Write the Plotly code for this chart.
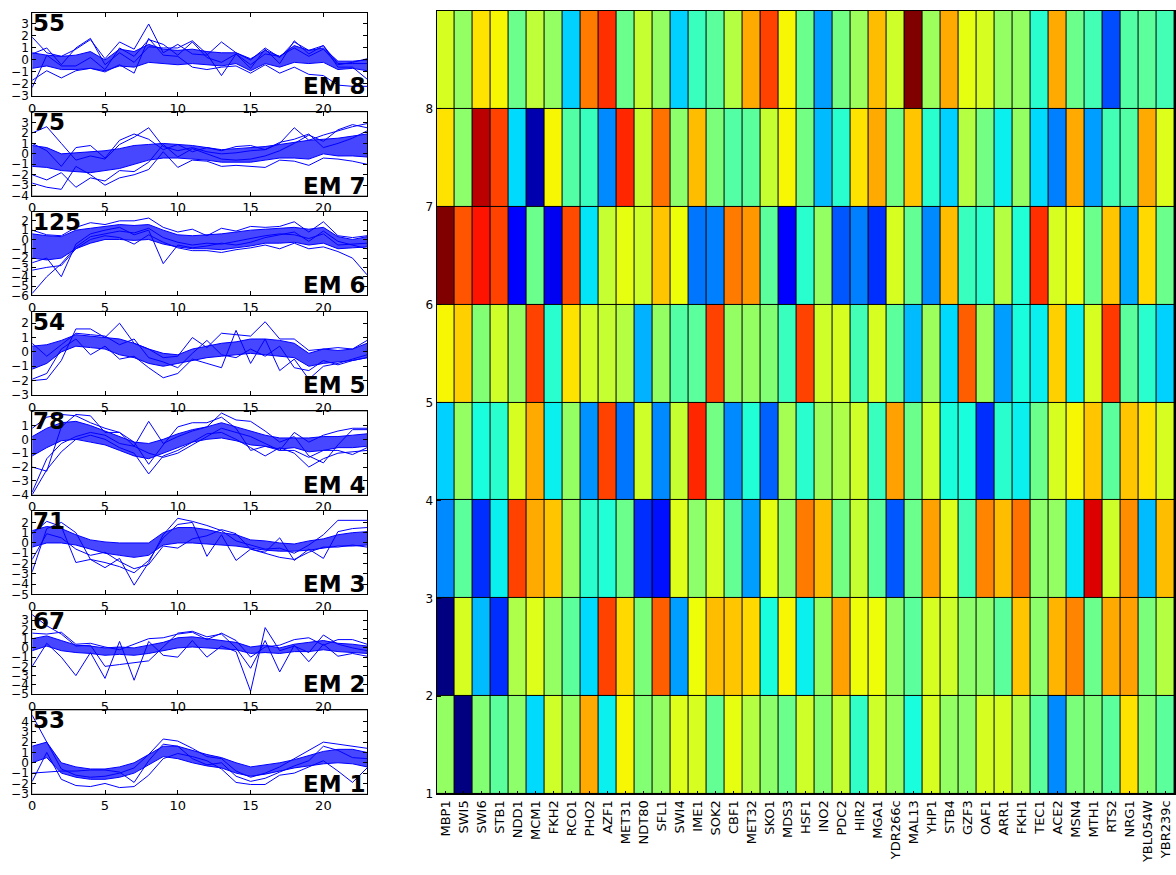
import numpy as np
import plotly.graph_objects as go

W, H = 1176, 875
FONT = "DejaVu Sans"

# ---------------- expression profiles (time points 0..23) ----------------
steps = list(range(24))

em_names = ["EM 8", "EM 7", "EM 6", "EM 5", "EM 4", "EM 3", "EM 2", "EM 1"]
em_counts = [55, 75, 125, 54, 78, 71, 67, 53]
em_ymin = [-3, -4, -6, -3, -4, -5, -5, -3]
em_ymax = [3.95, 3.98, 2.95, 2.8, 2.02, 3.1, 4.02, 5.06]
em_tick_lo = [-3, -4, -6, -3, -4, -5, -5, -3]
em_tick_hi = [3, 3, 2, 2, 1, 2, 3, 4]

# dense core of each cluster: lower / upper edge per time point
em8_lo = [-0.7, -0.5, -0.8, -0.8, -0.7, -0.9, -0.5, -0.6, -0.2, -0.3, -0.4, -0.3, -0.4, -0.5, -0.3, -0.9, -0.3, -0.6, -0.2, -0.3, -0.2, -0.8, -0.7, -0.9]
em8_hi = [0.6, 0.4, 0.3, 0.4, 0.7, 0.0, 0.9, 0.7, 1.3, 0.9, 0.8, 0.9, 0.7, 0.6, 0.6, 0.1, 0.8, 0.3, 1.2, 0.8, 1.0, -0.1, -0.1, 0.0]
em8_lines = [
    [1.9, 0.6, 0.3, 0.9, 1.7, 0.1, 1.5, 0.9, 3.0, 0.6, 1.3, 0.5, 0.4, 1.5, 0.6, 0.0, 1.0, 0.2, 1.5, 0.8, 1.2, -0.3, -0.3, -0.3],
    [-1.7, -0.9, -1.5, -0.9, -0.7, -1.0, -0.4, -1.1, 1.8, 0.4, 0.3, -0.6, -0.8, -0.6, -0.5, -1.1, -0.4, -1.1, -0.6, -1.2, -1.3, -2.1, -2.2, -2.2],
    [-2.3, 0.4, -0.5, -0.5, 0.2, -0.8, 1.0, 0.3, 1.7, 1.3, 0.4, 1.5, 0.2, -0.2, 0.5, -0.7, 0.9, -0.3, 1.6, 0.5, 1.2, -0.6, -0.6, -1.6],
    [0.5, 1.0, -0.4, 1.0, 1.8, -0.4, 0.6, -0.2, 1.1, 1.0, 1.0, 1.6, 0.5, -1.3, 0.5, -0.4, 0.5, 0.3, 1.0, 0.3, 0.9, -0.4, -0.2, 0.1],
]

em7_lo = [-1.2, -1.3, -1.6, -1.7, -1.8, -1.6, -1.4, -1.0, -0.6, -0.4, -0.4, -0.5, -0.6, -0.8, -0.8, -0.8, -0.6, -0.4, -0.4, -0.5, 0.0, -0.2, -0.2, -0.3]
em7_hi = [0.8, 0.6, 0.0, 0.1, 0.2, 0.3, 0.5, 0.8, 0.9, 1.0, 0.9, 0.8, 0.6, 0.4, 0.5, 0.6, 0.7, 0.9, 1.1, 1.3, 1.4, 1.5, 1.7, 1.9]
em7_lines = [
    [2.0, 2.6, 1.0, -0.6, -0.2, -0.5, 0.9, 1.6, 2.5, 0.7, 0.3, 0.6, 0.2, 0.0, 0.1, 0.3, 0.4, 1.0, 2.5, 1.3, 1.8, 2.2, 2.6, 2.9],
    [-2.8, -3.2, -3.4, -1.2, -2.0, -3.0, -2.3, -2.0, -1.5, 0.2, -1.3, -0.6, -0.7, -1.2, -1.1, -1.2, -1.3, -0.6, -0.7, -1.1, -0.4, -0.5, -0.7, -1.0],
    [-2.0, -2.5, -1.8, -3.2, -2.3, -2.6, -1.6, -1.7, -0.8, 0.9, -0.3, 0.5, 0.0, -0.5, -0.6, -0.5, -0.2, 0.3, 1.0, 1.8, 1.2, 2.3, 2.8, 2.5],
    [1.0, 0.3, -1.2, 0.6, 0.8, -0.4, 1.3, 1.9, 1.4, 0.4, 0.9, 0.2, 0.6, 0.3, 0.7, 0.8, 0.4, 1.1, 1.4, 1.9, 0.6, 1.0, 1.5, 2.2],
]

em6_lo = [-2.0, -2.2, -2.0, -1.0, -0.4, 0.0, 0.0, -0.1, 0.0, -0.5, -0.8, -1.0, -1.0, -1.1, -0.9, -0.7, -0.4, -0.4, -0.3, -0.6, -0.4, -1.0, -0.9, -0.8]
em6_hi = [0.6, 0.4, 0.3, 1.0, 1.2, 1.4, 1.6, 1.5, 1.6, 1.0, 0.5, 0.4, 0.5, 0.6, 0.8, 1.0, 1.1, 1.2, 1.3, 1.1, 1.3, 0.3, 0.0, 0.3]
em6_lines = [
    [-5.8, -4.0, -2.6, -0.8, 0.3, 0.6, 0.9, 0.7, 1.2, 0.2, -0.3, -0.6, -0.4, -0.5, -0.2, 0.1, 0.4, 0.6, 0.5, 0.1, 0.6, -0.6, -0.5, -0.4],
    [-2.5, -2.0, -4.0, -0.5, 0.6, 1.0, 1.3, 0.5, 1.0, -2.6, -0.6, -0.9, -0.7, -0.4, -0.6, -0.3, 0.2, 0.5, 0.8, -0.2, 0.9, -0.2, -0.6, -1.0],
    [-3.3, -3.0, -2.8, -1.0, 0.0, 0.4, 0.2, -0.5, 0.5, -0.3, -0.9, -1.2, -1.2, -1.4, -1.1, -0.9, -0.6, -1.0, -0.4, -1.0, -0.8, -1.3, -2.0, -3.8],
    [1.0, 0.5, 0.4, 1.3, 1.8, 1.6, 2.0, 2.0, 2.3, 1.3, 0.8, 1.1, 0.4, 1.2, 0.9, 1.4, 1.3, 1.4, 1.9, 0.8, 1.9, 0.4, 0.2, 0.4],
]

em5_lo = [-1.2, -0.8, 0.0, 0.4, 0.3, 0.2, -0.2, -0.4, -0.8, -1.0, -0.8, -0.6, -0.4, -0.3, -0.2, -0.1, -0.2, -0.3, -0.4, -1.0, -0.8, -0.7, -0.6, -0.4]
em5_hi = [0.4, 0.5, 0.8, 1.2, 1.1, 1.0, 0.9, 0.6, 0.2, -0.1, -0.2, 0.2, 0.4, 0.6, 0.7, 0.9, 0.9, 0.8, 0.6, -0.1, 0.2, 0.1, 0.2, 0.6]
em5_lines = [
    [-2.0, -1.9, -0.6, 1.6, 1.6, 1.0, 2.0, 0.6, 0.2, -0.4, -0.3, 1.0, 0.3, 1.3, 1.2, 1.1, 2.1, 0.9, 0.9, 0.1, 0.2, 0.3, 0.2, 0.8],
    [-1.9, -1.5, 0.2, 0.9, -0.2, 0.4, -0.5, -0.3, -1.1, -1.8, -1.5, -0.5, -0.8, -1.1, 1.5, -0.8, 0.9, -1.3, -0.5, -1.9, -1.0, -0.8, -0.5, -0.2],
    [0.6, -0.3, 0.5, 1.3, 1.2, 1.1, 0.5, 0.9, -0.4, -0.7, -1.1, -0.1, 0.8, -0.2, -0.4, 0.2, -0.3, 0.4, -1.1, -1.3, -0.6, -0.9, -0.6, -0.4],
]

em4_lo = [-1.2, -0.6, -0.1, 0.0, -0.2, -0.4, -0.8, -1.2, -1.4, -1.0, -0.6, -0.2, 0.0, 0.1, -0.1, -0.4, -0.5, -0.7, -0.6, -0.9, -0.8, -0.6, -0.6, -0.5]
em4_hi = [0.2, 0.8, 1.2, 1.3, 1.0, 0.6, 0.2, -0.2, -0.3, 0.0, 0.4, 0.7, 0.9, 1.2, 0.9, 0.6, 0.3, 0.1, 0.1, 0.1, 0.2, 0.2, 0.3, 0.4]
em4_lines = [
    [-4.0, -2.2, -0.9, 0.0, 0.3, 0.0, -0.6, -1.0, -2.5, -1.2, -0.8, -0.2, 0.4, 0.5, 0.0, -0.6, -1.2, -0.6, -1.0, -2.0, -1.4, -1.0, -0.9, -0.8],
    [-3.8, -1.4, -0.3, 0.2, 0.5, 0.3, -0.3, -0.5, 1.3, -0.3, 0.2, 0.6, 0.9, 1.9, 1.4, 1.3, 0.6, -0.2, 0.2, -1.2, -1.7, -0.4, 0.7, 0.7],
    [-2.0, -2.3, 0.9, 1.8, 1.7, 0.5, 0.5, -0.2, -1.8, -0.4, 0.9, 1.2, 1.2, 1.6, 0.8, -0.8, -0.5, -0.8, 0.5, -0.2, 0.3, 0.6, 0.8, 0.8],
    [0.8, 1.6, 1.8, 1.7, 1.2, 0.8, 0.5, -0.5, -1.0, -1.3, -1.0, -0.4, 0.2, 0.8, 0.5, 0.2, -0.3, -0.8, -0.8, -1.3, -0.8, -0.8, -1.1, -0.6],
]

em3_lo = [-0.4, 0.0, 0.0, -0.2, -0.6, -1.0, -1.2, -1.4, -1.2, -0.2, 0.0, 0.0, -0.1, -0.2, -0.3, -0.5, -0.7, -0.8, -0.8, -0.7, -0.5, -0.3, -0.3, -0.2]
em3_hi = [1.2, 1.6, 1.4, 0.8, 0.3, 0.1, 0.0, 0.0, 0.0, 1.0, 1.5, 1.5, 1.3, 1.0, 0.8, 0.3, 0.2, 0.0, -0.1, 0.2, 0.4, 0.8, 1.0, 1.1]
em3_lines = [
    [-2.8, 1.4, 2.0, 1.0, -1.6, -2.4, -1.5, -4.1, -1.9, 0.8, 2.4, 2.1, 1.7, 1.2, 0.2, -0.2, -0.6, -0.5, -1.0, -0.2, 0.8, 2.2, 2.2, 2.2],
    [0.9, 2.1, 1.6, -1.9, -1.6, -1.9, -2.3, -2.9, -1.7, 0.5, 1.8, 2.0, -1.3, 0.8, -1.7, -0.6, -0.9, 0.5, -1.7, -0.6, -1.5, 1.1, 1.4, 1.5],
    [-1.6, 0.9, 0.5, -0.6, -1.2, -0.9, -1.8, -2.5, -2.1, -0.3, -0.5, 0.4, 0.7, 1.3, 0.9, -0.6, -1.0, -1.4, -1.6, -0.9, -0.4, -0.4, -0.2, -0.4],
]

em2_lo = [-0.3, 0.2, -0.3, -0.5, -0.6, -0.8, -0.7, -0.8, -0.6, -0.3, 0.0, 0.1, 0.0, -0.1, -0.2, -0.6, -0.5, -0.6, -0.4, -0.4, -0.2, -0.4, -0.5, -0.6]
em2_hi = [1.0, 1.3, 0.8, 0.3, 0.2, 0.0, 0.1, 0.0, 0.3, 0.6, 1.1, 1.2, 1.0, 0.8, 0.6, 0.1, 0.3, 0.0, 0.4, 0.6, 0.8, 0.5, 0.4, 0.2]
em2_lines = [
    [-2.0, 0.5, -1.0, -3.0, -0.5, -3.3, 0.7, -3.5, 0.7, -0.8, -1.0, 0.8, -1.0, 0.2, -0.4, -4.7, 2.2, -0.3, 0.2, -0.5, 1.4, 0.4, 0.0, -0.3],
    [3.6, 2.4, 1.5, 0.2, 0.3, -2.0, -1.8, -1.6, -1.4, 0.1, 1.6, 1.8, 1.2, 1.5, 0.0, -2.2, 0.8, -2.6, 0.3, -1.5, 0.4, -0.9, -0.6, -0.9],
    [1.6, 1.5, 1.7, 0.4, 0.5, 0.1, -0.2, 0.4, 1.0, 1.1, 1.5, 1.7, 0.9, 1.6, 0.8, -1.0, 0.1, 0.3, 0.9, 1.1, 0.3, 0.9, 0.9, 0.4],
]

em1_lo = [0.0, 0.5, -1.0, -1.4, -1.6, -1.6, -1.4, -1.0, -0.2, 0.6, 0.4, 0.0, -0.3, -0.5, -1.0, -1.3, -1.1, -0.8, -0.5, -0.3, -0.1, 0.0, -0.1, -0.4]
em1_hi = [1.6, 2.0, 0.0, -0.4, -0.6, -0.6, -0.4, 0.0, 0.8, 1.6, 1.6, 1.2, 0.8, 0.5, 0.0, -0.4, -0.2, 0.0, 0.3, 0.7, 1.1, 1.3, 1.3, 1.0]
em1_lines = [
    [4.6, 2.0, -0.6, -1.2, -1.4, -1.3, -1.0, -0.5, 0.8, 2.3, 2.1, 1.4, 0.6, 0.4, -0.8, -1.4, -1.0, -0.4, 0.4, 1.2, 2.0, 1.8, 1.6, 1.4],
    [-1.8, 1.0, -1.6, -2.2, -2.3, -2.0, -2.4, -2.3, -1.2, 0.4, 0.9, 0.6, 0.2, -0.6, -1.9, -2.1, -2.1, -1.2, -1.0, -0.4, 0.2, -0.8, -1.9, -0.5],
    [-1.0, -0.9, -0.8, -0.8, -0.7, -0.7, -0.9, -1.9, 0.2, 1.8, 1.6, 0.4, -0.2, 0.0, -1.3, -1.8, -1.5, -0.9, -0.3, 0.2, 1.6, 1.2, 0.5, 0.4],
]

em_lo = [em8_lo, em7_lo, em6_lo, em5_lo, em4_lo, em3_lo, em2_lo, em1_lo]
em_hi = [em8_hi, em7_hi, em6_hi, em5_hi, em4_hi, em3_hi, em2_hi, em1_hi]
em_lines = [em8_lines, em7_lines, em6_lines, em5_lines, em4_lines, em3_lines, em2_lines, em1_lines]

# ---------------- regulator enrichment matrix ----------------
regulators = ["MBP1", "SWI5", "SWI6", "STB1", "NDD1", "MCM1", "FKH2", "RCO1", "PHO2", "AZF1",
              "MET31", "NDT80", "SFL1", "SWI4", "IME1", "SOK2", "CBF1", "MET32", "SKO1", "MDS3",
              "HSF1", "INO2", "PDC2", "HIR2", "MGA1", "YDR266c", "MAL13", "YHP1", "STB4", "GZF3",
              "OAF1", "ARR1", "FKH1", "TEC1", "ACE2", "MSN4", "MTH1", "RTS2", "NRG1", "YBL054W", "YBR239c"]
em_rows = [1, 2, 3, 4, 5, 6, 7, 8]

hm_row1 = [0.53, 0.00, 0.51, 0.46, 0.52, 0.34, 0.60, 0.53, 0.73, 0.36, 0.65, 0.51, 0.53, 0.62, 0.61, 0.47, 0.63, 0.57, 0.52, 0.48,
           0.60, 0.51, 0.59, 0.41, 0.60, 0.53, 0.38, 0.61, 0.53, 0.52, 0.61, 0.61, 0.56, 0.46, 0.26, 0.50, 0.50, 0.46, 0.67, 0.51, 0.46]
hm_row2 = [0.00, 0.61, 0.31, 0.17, 0.56, 0.62, 0.53, 0.46, 0.34, 0.84, 0.68, 0.50, 0.81, 0.28, 0.64, 0.71, 0.70, 0.68, 0.38, 0.65,
           0.36, 0.53, 0.74, 0.64, 0.64, 0.52, 0.46, 0.61, 0.60, 0.52, 0.52, 0.46, 0.70, 0.52, 0.72, 0.77, 0.48, 0.73, 0.74, 0.50, 0.57]
hm_row3 = [0.26, 0.46, 0.17, 0.36, 0.84, 0.73, 0.70, 0.53, 0.40, 0.39, 0.48, 0.17, 0.14, 0.62, 0.52, 0.61, 0.47, 0.28, 0.63, 0.52,
           0.78, 0.71, 0.49, 0.59, 0.46, 0.21, 0.48, 0.74, 0.62, 0.43, 0.77, 0.71, 0.79, 0.52, 0.53, 0.35, 0.92, 0.60, 0.76, 0.31, 0.71]
hm_row4 = [0.33, 0.53, 0.38, 0.40, 0.61, 0.73, 0.36, 0.53, 0.27, 0.84, 0.24, 0.60, 0.26, 0.59, 0.87, 0.49, 0.26, 0.39, 0.22, 0.55,
           0.40, 0.54, 0.56, 0.60, 0.42, 0.74, 0.48, 0.60, 0.38, 0.38, 0.17, 0.40, 0.36, 0.48, 0.61, 0.65, 0.70, 0.46, 0.70, 0.67, 0.61]
hm_row5 = [0.65, 0.69, 0.51, 0.60, 0.53, 0.84, 0.40, 0.67, 0.60, 0.59, 0.57, 0.30, 0.53, 0.45, 0.46, 0.84, 0.53, 0.53, 0.51, 0.42,
           0.84, 0.60, 0.61, 0.43, 0.61, 0.46, 0.31, 0.54, 0.34, 0.81, 0.54, 0.28, 0.38, 0.36, 0.69, 0.36, 0.61, 0.85, 0.46, 0.40, 0.33]
hm_row6 = [1.00, 0.82, 0.89, 0.84, 0.12, 0.48, 0.10, 0.83, 0.35, 0.59, 0.63, 0.60, 0.70, 0.64, 0.24, 0.25, 0.78, 0.75, 0.46, 0.11,
           0.40, 0.53, 0.21, 0.25, 0.17, 0.61, 0.47, 0.26, 0.71, 0.42, 0.40, 0.57, 0.39, 0.86, 0.61, 0.63, 0.48, 0.70, 0.29, 0.68, 0.48]
hm_row7 = [0.67, 0.52, 0.95, 0.84, 0.34, 0.04, 0.65, 0.45, 0.42, 0.26, 0.87, 0.59, 0.79, 0.52, 0.71, 0.50, 0.45, 0.46, 0.59, 0.65,
           0.49, 0.31, 0.40, 0.67, 0.73, 0.49, 0.70, 0.40, 0.33, 0.57, 0.49, 0.36, 0.53, 0.34, 0.25, 0.73, 0.28, 0.43, 0.45, 0.73, 0.62]
hm_row8 = [0.61, 0.53, 0.67, 0.65, 0.48, 0.58, 0.53, 0.33, 0.78, 0.86, 0.48, 0.59, 0.53, 0.33, 0.42, 0.46, 0.57, 0.73, 0.84, 0.65,
           0.48, 0.28, 0.49, 0.54, 0.71, 0.60, 1.00, 0.54, 0.73, 0.63, 0.61, 0.53, 0.53, 0.40, 0.73, 0.48, 0.43, 0.20, 0.45, 0.46, 0.43]


def jet_colorscale(n=65):
    """Classic 'jet' colormap (piecewise linear RGB)."""
    red = ([0, 0.35, 0.66, 0.89, 1], [0, 0, 1, 1, 0.5])
    green = ([0, 0.125, 0.375, 0.64, 0.91, 1], [0, 0, 1, 1, 0, 0])
    blue = ([0, 0.11, 0.34, 0.65, 1], [0.5, 1, 1, 0, 0])
    out = []
    for t in np.linspace(0, 1, n):
        r = np.interp(t, *red)
        g = np.interp(t, *green)
        b = np.interp(t, *blue)
        out.append([float(t), f"rgb({int(round(r*255))},{int(round(g*255))},{int(round(b*255))})"])
    return out


LINE_BLUE = "rgb(0,0,255)"
fig = go.Figure()

# ---------------- left column: cluster profile panels ----------------
px_left, px_right = 28.3, 364.3
panel_top0, panel_step, panel_h = 12.7, 100.5, 84.0
annotations = []

for i in range(8):
    ax = i + 1
    xa = "x" if ax == 1 else f"x{ax}"
    ya = "y" if ax == 1 else f"y{ax}"
    top = panel_top0 + panel_step * i
    bot = top + panel_h

    # white panel background (the heatmap uses a black plot background for its cell borders)
    fig.add_shape(type="rect", xref="paper", yref="paper", x0=px_left / W, x1=px_right / W,
                  y0=1 - bot / H, y1=1 - top / H, fillcolor="white", line=dict(width=0), layer="below")

    # dense core band of the cluster
    fig.add_trace(go.Scatter(x=steps, y=em_lo[i], mode="lines", line=dict(color=LINE_BLUE, width=1),
                             xaxis=xa, yaxis=ya, showlegend=False, hoverinfo="skip"))
    fig.add_trace(go.Scatter(x=steps, y=em_hi[i], mode="lines", line=dict(color=LINE_BLUE, width=1),
                             fill="tonexty", fillcolor="rgba(0,0,255,0.72)",
                             xaxis=xa, yaxis=ya, showlegend=False, hoverinfo="skip"))
    # individual member profiles
    for prof in em_lines[i]:
        fig.add_trace(go.Scatter(x=steps, y=prof, mode="lines", line=dict(color=LINE_BLUE, width=1),
                                 xaxis=xa, yaxis=ya, showlegend=False, hoverinfo="skip"))

    xkey = "xaxis" if ax == 1 else f"xaxis{ax}"
    ykey = "yaxis" if ax == 1 else f"yaxis{ax}"
    fig.update_layout({
        xkey: dict(domain=[px_left / W, px_right / W], anchor=ya, range=[0, 23],
                   tickvals=[0, 5, 10, 15, 20], ticks="inside", ticklen=4, tickcolor="black",
                   showline=True, linecolor="black", linewidth=1, mirror="allticks",
                   showgrid=False, zeroline=False, tickfont=dict(family=FONT, size=13, color="black")),
        ykey: dict(domain=[1 - bot / H, 1 - top / H], anchor=xa, range=[em_ymin[i], em_ymax[i]],
                   tickvals=list(range(em_tick_lo[i], em_tick_hi[i] + 1)), ticks="inside", ticklen=4,
                   tickcolor="black", showline=True, linecolor="black", linewidth=1, mirror="allticks",
                   showgrid=False, zeroline=False, tickfont=dict(family=FONT, size=12, color="black")),
    })

    annotations.append(dict(xref=f"{xa} domain", yref=f"{ya} domain", x=0.0, y=1.0, xanchor="left",
                            yanchor="top", yshift=5, xshift=-1, showarrow=False, text=str(em_counts[i]),
                            font=dict(family=FONT, size=23, color="black", weight="bold")))
    annotations.append(dict(xref=f"{xa} domain", yref=f"{ya} domain", x=1.0, y=0.0, xanchor="right",
                            yanchor="bottom", yshift=-5, xshift=1, showarrow=False, text=em_names[i],
                            font=dict(family=FONT, size=23, color="black", weight="bold")))

# ---------------- right: regulator heatmap ----------------
hm_left, hm_right, hm_top, hm_bot = 434.0, 1175.0, 11.0, 800.5
z = [hm_row1, hm_row2, hm_row3, hm_row4, hm_row5, hm_row6, hm_row7, hm_row8]
fig.add_trace(go.Heatmap(z=z, x=list(range(len(regulators))), y=[r + 0.5 for r in em_rows],
                         colorscale=jet_colorscale(), zmin=0, zmax=1, showscale=False,
                         xgap=1, ygap=1, xaxis="x9", yaxis="y9", hoverinfo="skip"))

fig.update_layout(
    xaxis9=dict(domain=[hm_left / W, hm_right / W], anchor="y9", range=[-0.5, len(regulators) - 0.5],
                tickvals=list(range(len(regulators))), ticktext=regulators, tickangle=-90,
                ticks="inside", ticklen=3, tickcolor="black", showline=True, linecolor="black",
                linewidth=1, mirror=True, showgrid=False, zeroline=False,
                tickfont=dict(family=FONT, size=13, color="black")),
    yaxis9=dict(domain=[1 - hm_bot / H, 1 - hm_top / H], anchor="x9", range=[1, 9],
                tickvals=em_rows, ticks="inside", ticklen=4, tickcolor="black",
                showline=True, linecolor="black", linewidth=1, mirror=True,
                showgrid=False, zeroline=False, tickfont=dict(family=FONT, size=12, color="black")),
)

fig.update_layout(
    width=W, height=H, margin=dict(l=0, r=0, t=0, b=0),
    paper_bgcolor="white", plot_bgcolor="black",
    annotations=annotations, showlegend=False,
    font=dict(family=FONT, color="black"),
)

fig.write_html("out.html")
